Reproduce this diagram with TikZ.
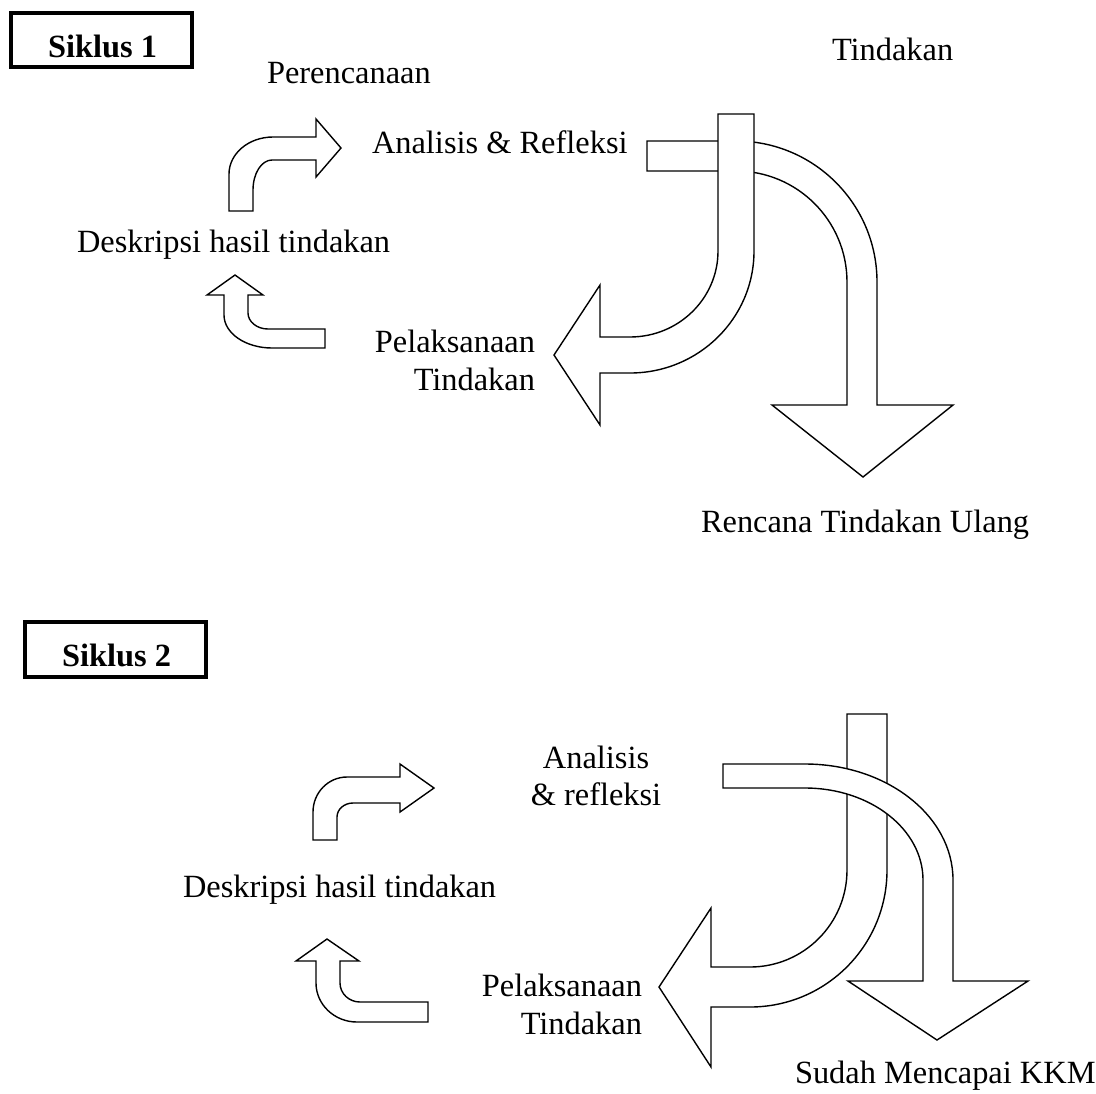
\documentclass[tikz,border=0pt]{standalone}
\usepackage{fontspec}
\setmainfont{Liberation Serif}
\begin{document}
\begin{tikzpicture}[x=0.5pt,y=-0.5pt,
  shape line/.style={draw=black,line width=0.7pt,fill=white,line join=miter},
  boxline/.style={draw=black,line width=2pt},
  lbl/.style={inner sep=0pt,outer sep=0pt,font=\fontsize{16.2}{19}\selectfont},
  blbl/.style={lbl,font=\fontsize{16.2}{19}\selectfont\bfseries}]
\useasboundingbox[fill=white] (0,0) rectangle (1096,1093);

% ---------------- Siklus 1 ----------------
\draw[boxline] (11.3,12.8) rectangle (192,66.7);
\node[blbl,anchor=base west] (s1) at (48,57) {Siklus 1};

\node[lbl,anchor=base west] (per1) at (267,83) {Perencanaan};
\node[lbl,anchor=base west] (tin1) at (832,60) {Tindakan};
\node[lbl,anchor=base west] (ana1) at (372,153) {Analisis \& Refleksi};
\node[lbl,anchor=base west] (des1) at (77,252) {Deskripsi hasil tindakan};
\node[lbl,anchor=base east] (pel1) at (535,352) {Pelaksanaan};
\node[lbl,anchor=base east] (pelt1) at (535,390) {Tindakan};
\node[lbl,anchor=base west] (ren1) at (701,532) {Rencana Tindakan Ulang};

% bent arrow to the right
\path[shape line] (229,211) -- (229,174)
  .. controls (229,153.6) and (248.7,137) .. (273,137) -- (316,137) -- (316,119)
  -- (341,148) -- (316,177) -- (316,160) -- (272,160)
  .. controls (261.5,160) and (253,173.4) .. (253,190) -- (253,211) -- cycle;

% bent arrow upward
\path[shape line] (235,275) -- (263,295) -- (248,295) -- (248,313)
  .. controls (248,321.8) and (257,329) .. (268,329) -- (325,329) -- (325,348) -- (272,348)
  .. controls (245.5,348) and (224,333.2) .. (224,315) -- (224,295) -- (207,295) -- cycle;

% big curved down arrow (behind)
\path[shape line] (647,141) -- (736,141)
  .. controls (813.9,141) and (877,204.1) .. (877,282) -- (877,405) -- (953,405)
  -- (863,477) -- (772,405) -- (847,405) -- (847,282)
  .. controls (847,220.7) and (797.3,171) .. (736,171) -- (647,171) -- cycle;

% big J arrow to the left (front)
\path[shape line] (718,114) -- (754,114) -- (754,251)
  .. controls (754,318.4) and (698.5,373) .. (630,373) -- (600,373) -- (600,425)
  -- (554,355) -- (600,285) -- (600,337) -- (630,337)
  .. controls (678.6,337) and (718,298.5) .. (718,251) -- cycle;

% ---------------- Siklus 2 ----------------
\draw[boxline] (24.7,622.3) rectangle (206.3,676.7);
\node[blbl,anchor=base west] (s2) at (62,666) {Siklus 2};

\node[lbl,anchor=base] (ana2) at (596,768) {Analisis};
\node[lbl,anchor=base] (ref2) at (596,805) {\& refleksi};
\node[lbl,anchor=base west] (des2) at (183,897) {Deskripsi hasil tindakan};
\node[lbl,anchor=base east] (pel2) at (642,996) {Pelaksanaan};
\node[lbl,anchor=base east] (pelt2) at (642,1034) {Tindakan};
\node[lbl,anchor=base west] (kkm2) at (795,1083) {Sudah Mencapai KKM};

% bent arrow to the right
\path[shape line] (313,840) -- (313,812)
  .. controls (313,792.7) and (328.2,777) .. (347,777) -- (400,777) -- (400,764)
  -- (434,788) -- (400,812) -- (400,803) -- (353,803)
  .. controls (344.2,803) and (337,809.3) .. (337,817) -- (337,840) -- cycle;

% bent arrow upward
\path[shape line] (327,939) -- (359,961) -- (340,961) -- (340,983)
  .. controls (340,993.5) and (349,1002) .. (360,1002) -- (428,1002) -- (428,1022) -- (357,1022)
  .. controls (334.4,1022) and (316,1004.5) .. (316,983) -- (316,961) -- (296,961) -- cycle;

% big J arrow to the left (behind)
\path[shape line] (847,714) -- (887,714) -- (887,870)
  .. controls (887,945.7) and (825.7,1007) .. (750,1007) -- (711,1007) -- (711,1067)
  -- (659,987) -- (711,908) -- (711,967) -- (750,967)
  .. controls (803.6,967) and (847,923.6) .. (847,870) -- cycle;

% big curved down arrow (front)
\path[shape line] (723,764) -- (805,764)
  .. controls (886.7,764) and (953,815.9) .. (953,880) -- (953,981) -- (1028,981)
  -- (937,1040) -- (848,981) -- (923,981) -- (923,880)
  .. controls (923,829.2) and (870.2,788) .. (805,788) -- (723,788) -- cycle;
\end{tikzpicture}
\end{document}
